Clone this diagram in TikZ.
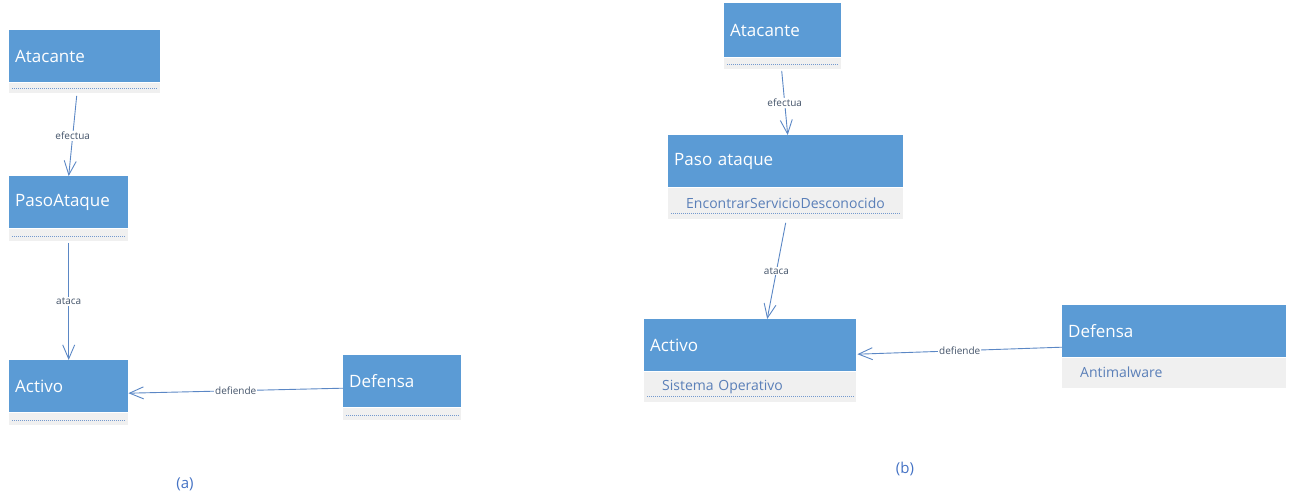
\documentclass[tikz,border=0pt]{standalone}
\usepackage{fontspec}
\setmainfont{Open Sans}
\usepackage{xcolor}
\usetikzlibrary{arrows.meta}
\definecolor{umlblue}{HTML}{5B9BD5}
\definecolor{umlgray}{HTML}{F0F0F0}
\definecolor{umlline}{HTML}{5B87C5}
\definecolor{umllabel}{HTML}{44546A}
\definecolor{umlattr}{HTML}{5A7FB8}
\definecolor{umlcaption}{HTML}{4472C4}
\tikzstyle{classbox} = [fill=umlblue, text=white, rectangle, anchor=north west, minimum height=52pt, inner xsep=6pt, inner ysep=0pt, align=left, font=\fontsize{17}{20}\selectfont]
\tikzstyle{attrbox} = [fill=umlgray, text=umlattr, rectangle, anchor=north west, inner xsep=18pt, inner ysep=0pt, align=left, font=\fontsize{14}{16}\selectfont]
\tikzstyle{dotrule} = [draw=umlline!85, dash pattern=on 1pt off 1pt, line width=1pt]
\tikzstyle{assoc} = [draw=umlline, line width=0.9pt, -{Straight Barb[length=14pt,width=12pt]}]
\tikzstyle{assoclabel} = [fill=white, text=umllabel, inner sep=1pt, font=\fontsize{10}{12}\selectfont]
\tikzstyle{caption} = [text=umlcaption, font=\fontsize{15}{18}\selectfont]

\begin{document}
\begin{tikzpicture}[x=1pt,y=-1pt]
\useasboundingbox (0,0) rectangle (1294,497);

% (a)
\node[classbox, text width=139pt] (atkA) at (9,30) {Atacante};
\node[attrbox, text width=115pt, minimum height=10pt] (atkAattr) at (atkA.south west) {};
\node[classbox, text width=107pt] (pasoA) at (9,176) {PasoAtaque};
\node[attrbox, text width=83pt, minimum height=12pt] (pasoAattr) at (pasoA.south west) {};
\node[classbox, text width=107pt] (actA) at (9,360) {Activo};
\node[attrbox, text width=83pt, minimum height=12pt] (actAattr) at (actA.south west) {};
\node[classbox, text width=106pt] (defA) at (343,355) {Defensa};
\node[attrbox, text width=82pt, minimum height=12pt] (defAattr) at (defA.south west) {};

% (b)
\node[classbox, text width=105pt, minimum height=54pt] (atkB) at (724,3) {Atacante};
\node[attrbox, text width=81pt, minimum height=11pt] (atkBattr) at (atkB.south west) {};
\node[classbox, text width=223pt] (pasoB) at (668,135) {Paso ataque};
\node[attrbox, text width=199pt, minimum height=31pt] (pasoBattr) at (pasoB.south west) {EncontrarServicioDesconocido};
\node[classbox, text width=200pt] (actB) at (644,319) {Activo};
\node[attrbox, text width=176pt, minimum height=30pt] (actBattr) at (actB.south west) {Sistema Operativo};
\node[classbox, text width=212pt] (defB) at (1062,305) {Defensa};
\node[attrbox, text width=188pt, minimum height=30pt] (defBattr) at (defB.south west) {Antimalware};

\foreach \n in {atkAattr,pasoAattr,actAattr,defAattr,atkBattr}
  \draw[dotrule] ([shift={(3pt,4pt)}]\n.south west) -- ([shift={(-3pt,4pt)}]\n.south east);
\foreach \n in {pasoBattr,actBattr}
  \draw[dotrule] ([shift={(3pt,5pt)}]\n.south west) -- ([shift={(-3pt,5pt)}]\n.south east);

% associations
\draw[assoc] ([xshift=-8pt,yshift=-3pt]atkAattr.south) -- node[assoclabel] {efectua} (pasoA.north);
\draw[assoc] ([yshift=-2pt]pasoAattr.south) -- node[assoclabel] {ataca} (actA.north);
\draw[assoc] ([yshift=-7pt]defA.west) -- node[assoclabel] {defiende} ([yshift=-7pt]actA.east);

\draw[assoc] ([xshift=-1pt,yshift=-2pt]atkBattr.south) -- node[assoclabel] {efectua} ([xshift=2pt]pasoB.north);
\draw[assoc] ([yshift=-4pt]pasoBattr.south) -- node[assoclabel] {ataca} ([xshift=17pt]actB.north);
\draw[assoc] ([yshift=-16pt]defB.west) -- node[assoclabel] {defiende} ([xshift=1pt,yshift=-9pt]actB.east);

\node[caption] (capA) at (185,484) {(a)};
\node[caption] (capB) at (905,469) {(b)};
\end{tikzpicture}
\end{document}
